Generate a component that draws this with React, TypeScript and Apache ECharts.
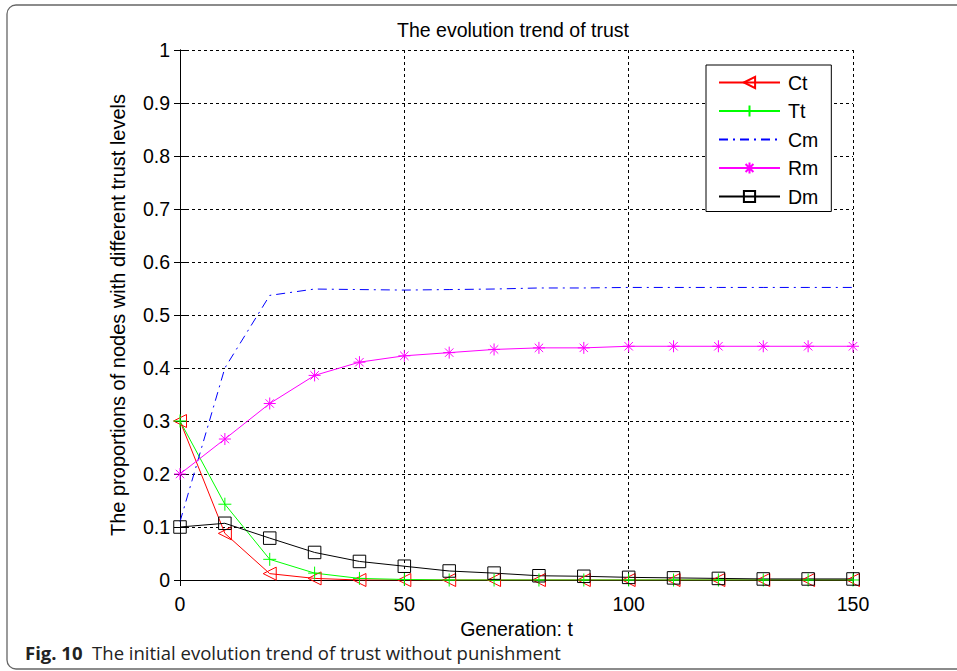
import React, { useEffect, useRef } from "react";
import * as echarts from "echarts";

// Generation steps (t) sampled every 10 generations
const generations = [0, 10, 20, 30, 40, 50, 60, 70, 80, 90, 100, 110, 120, 130, 140, 150];

// Proportion of nodes at each trust level
const ctValues = [0.3, 0.088, 0.012, 0.003, 0, 0, 0, 0, 0, 0, 0, 0, 0, 0, 0, 0];
const ttValues = [0.3, 0.143, 0.039, 0.013, 0.003, 0.001, 0, 0, 0, 0, 0, 0, 0, 0, 0, 0];
const cmValues = [0.11, 0.4, 0.537, 0.549, 0.548, 0.547, 0.548, 0.549, 0.551, 0.551, 0.552, 0.552, 0.552, 0.552, 0.552, 0.552];
const rmValues = [0.2, 0.266, 0.333, 0.386, 0.411, 0.423, 0.429, 0.435, 0.438, 0.438, 0.441, 0.441, 0.441, 0.441, 0.441, 0.441];
const dmValues = [0.1, 0.107, 0.079, 0.052, 0.035, 0.026, 0.017, 0.013, 0.008, 0.007, 0.005, 0.004, 0.003, 0.002, 0.002, 0.002];

const seriesNames = ["Ct", "Tt", "Cm", "Rm", "Dm"];

const xTicks = { min: 0, max: 150, interval: 50 };
const yTicks = { min: 0, max: 1, interval: 0.1 };

const FONT = "'Liberation Sans', Arial, sans-serif";
const CAPTION_FONT = "'Open Sans', 'Noto Sans', sans-serif";

const plusSymbol = "path://M0,5L10,5M5,0L5,10";
const starSymbol = "path://M5,0L5,10M0,5L10,5M1.5,1.5L8.5,8.5M8.5,1.5L1.5,8.5";

const pairs = (ys: number[]) => generations.map((g, i) => [g, ys[i]]);

export default function App() {
  const ref = useRef<HTMLDivElement>(null);

  useEffect(() => {
    if (!ref.current) return;
    const chart = echarts.init(ref.current, undefined, { renderer: "svg" });

    const hollow = (c: string) => ({ color: "rgba(0,0,0,0)", borderColor: c, borderWidth: 1 });
    const gridLine = { show: true, lineStyle: { color: "#000", type: [3, 3] as any, width: 1 } };
    const axisLine = { show: true, lineStyle: { color: "#000", width: 1 } };
    const innerTick = { show: true, inside: true, length: 6, lineStyle: { color: "#000" } };

    chart.setOption({
      animation: false,
      backgroundColor: "#fff",
      grid: { left: 180, right: 104, top: 50, bottom: 91 },
      legend: {
        orient: "vertical",
        left: 706,
        top: 65,
        padding: [7.5, 13, 5, 12],
        itemWidth: 61,
        itemHeight: 14,
        itemGap: 8.5,
        borderColor: "#000",
        borderWidth: 1,
        backgroundColor: "#fff",
        data: seriesNames,
        textStyle: { fontFamily: FONT, fontSize: 19.5, color: "#000", padding: [0, 0, 0, 3] },
      },
      xAxis: [
        {
          type: "value",
          ...xTicks,
          name: "Generation: t",
          nameLocation: "middle",
          nameGap: 36,
          nameTextStyle: { fontFamily: FONT, fontSize: 19.5, color: "#000" },
          axisLine,
          axisTick: innerTick,
          axisLabel: { fontFamily: FONT, fontSize: 19.5, color: "#000", margin: 14 },
          splitLine: gridLine,
        },
        {
          type: "value",
          position: "top",
          ...xTicks,
          axisLine,
          axisTick: innerTick,
          axisLabel: { show: false },
          splitLine: { show: false },
        },
      ],
      yAxis: [
        {
          type: "value",
          ...yTicks,
          name: "The proportions of nodes with different trust levels",
          nameLocation: "middle",
          nameGap: 52,
          nameTextStyle: { fontFamily: FONT, fontSize: 20, color: "#000" },
          axisLine,
          axisTick: innerTick,
          axisLabel: { fontFamily: FONT, fontSize: 19.5, color: "#000", margin: 10 },
          splitLine: gridLine,
        },
        {
          type: "value",
          position: "right",
          ...yTicks,
          axisLine,
          axisTick: innerTick,
          axisLabel: { show: false },
          splitLine: { show: false },
        },
      ],
      graphic: [
        {
          type: "rect",
          shape: { x: 7, y: 5, width: 1000, height: 664, r: 9 },
          style: { fill: "none", stroke: "#666", lineWidth: 1.3 },
          silent: true,
        },
        {
          type: "text",
          x: 513,
          y: 30,
          style: {
            text: "The evolution trend of trust",
            fontFamily: FONT,
            fontSize: 19.5,
            fill: "#000",
            textAlign: "center",
            textVerticalAlign: "middle",
          },
        },
        {
          type: "text",
          x: 25,
          y: 652,
          style: {
            text: "{b|Fig. 10}  The initial evolution trend of trust without punishment",
            fontFamily: CAPTION_FONT,
            fontSize: 18.5,
            fill: "#222",
            textVerticalAlign: "middle",
            rich: {
              b: { fontFamily: CAPTION_FONT, fontSize: 18.5, fontWeight: "bold", fill: "#222" },
            },
          },
        },
      ],
      series: [
        {
          name: "Ct",
          type: "line",
          data: pairs(ctValues),
          color: "#ff0000",
          symbol: "triangle",
          symbolRotate: 90,
          symbolSize: 13,
          showAllSymbol: true,
          lineStyle: { color: "#ff0000", width: 1 },
          itemStyle: hollow("#ff0000"),
        },
        {
          name: "Tt",
          type: "line",
          data: pairs(ttValues),
          color: "#00ff00",
          symbol: plusSymbol,
          symbolSize: 13,
          showAllSymbol: true,
          lineStyle: { color: "#00ff00", width: 1 },
          itemStyle: hollow("#00ff00"),
        },
        {
          name: "Cm",
          type: "line",
          data: pairs(cmValues),
          color: "#0000ff",
          symbol: "circle",
          showSymbol: false,
          lineStyle: { color: "#0000ff", width: 1, type: [9, 5, 2, 5] as any },
          itemStyle: { color: "rgba(0,0,0,0)", borderWidth: 0 },
        },
        {
          name: "Rm",
          type: "line",
          data: pairs(rmValues),
          color: "#ff00ff",
          symbol: starSymbol,
          symbolSize: 12,
          showAllSymbol: true,
          lineStyle: { color: "#ff00ff", width: 1 },
          itemStyle: hollow("#ff00ff"),
        },
        {
          name: "Dm",
          type: "line",
          data: pairs(dmValues),
          color: "#000",
          symbol: "rect",
          symbolSize: 12.5,
          showAllSymbol: true,
          lineStyle: { color: "#000", width: 1 },
          itemStyle: hollow("#000"),
        },
      ],
    });

    return () => chart.dispose();
  }, []);

  return (
    <div
      ref={ref}
      style={{ position: "fixed", left: 0, top: 0, width: 957, height: 671, background: "#fff" }}
    />
  );
}
